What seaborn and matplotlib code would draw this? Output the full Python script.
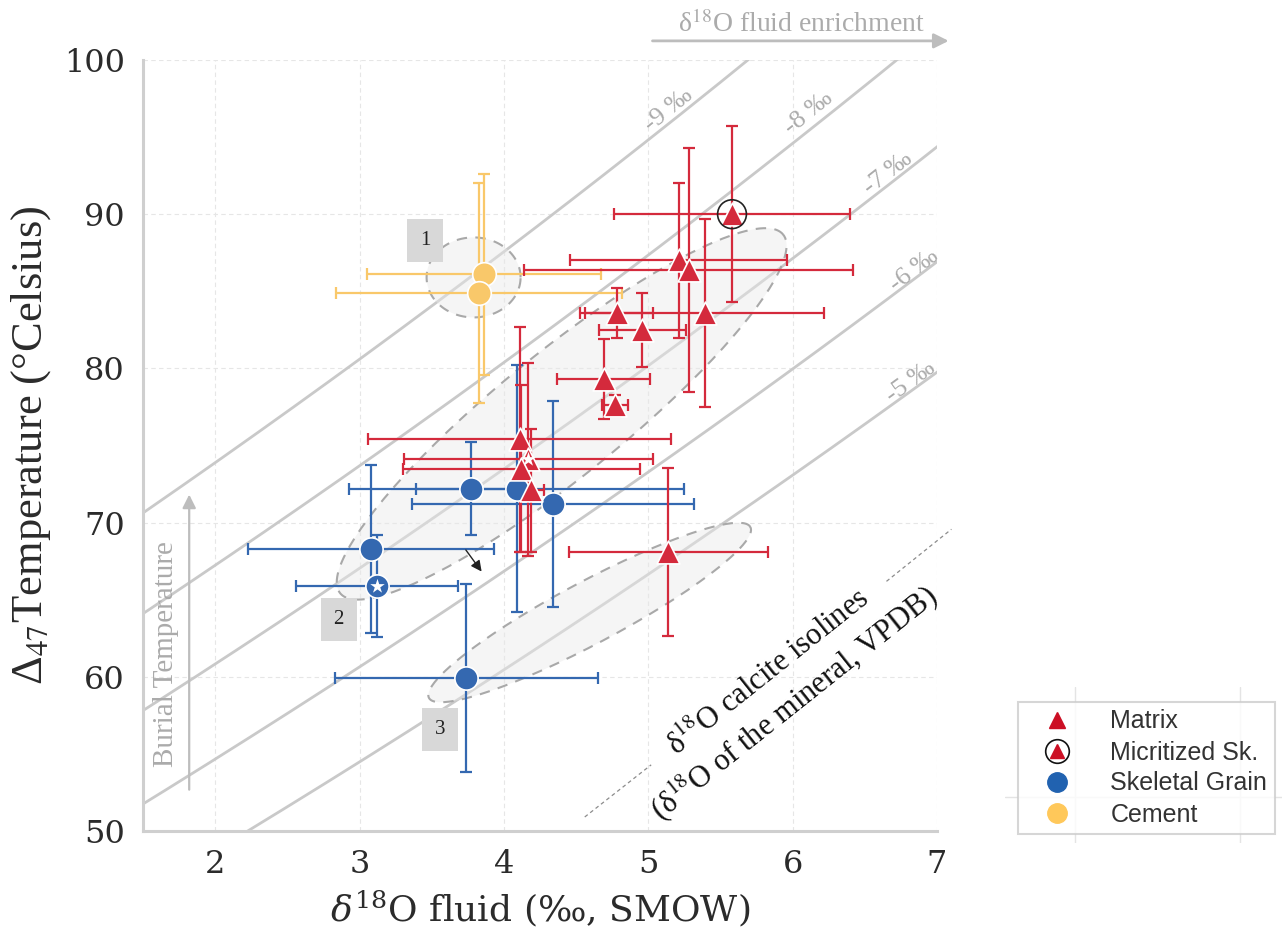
import numpy as np
import pandas as pd
import matplotlib
matplotlib.use("Agg")
import matplotlib.pyplot as plt
import seaborn as sns
from matplotlib.lines import Line2D
from matplotlib.legend_handler import HandlerTuple
from matplotlib.patches import Rectangle

# ---------------- data ----------------
matrix_x = [5.58, 5.21, 5.28, 4.78, 5.39, 4.96, 4.69, 4.77, 4.11, 4.17, 4.12, 4.19, 5.14]
matrix_y = [90.0, 87.0, 86.4, 83.6, 83.6, 82.5, 79.3, 77.6, 75.4, 74.1, 73.5, 72.1, 68.1]
matrix_xerr = [0.82, 0.75, 1.14, 0.25, 0.83, 0.30, 0.32, 0.09, 1.05, 0.86, 0.82, 0.09, 0.69]
matrix_yerr = [5.7, 5.0, 7.9, 1.6, 6.1, 2.4, 2.6, 0.7, 7.3, 6.25, 5.4, 4.0, 5.45]
matrix_micritized = [True] + [False] * 12
matrix_star = [False] * 9 + [True] + [False] * 3

skeletal_x = [3.77, 3.08, 3.12, 4.09, 4.34, 3.74]
skeletal_y = [72.2, 68.3, 65.9, 72.2, 71.2, 59.9]
skeletal_xerr = [0.38, 0.85, 0.56, 1.16, 0.98, 0.91]
skeletal_yerr = [3.0, 5.45, 3.3, 8.0, 6.7, 6.1]
skeletal_star = [False, False, True, False, False, False]

cement_x = [3.865, 3.83]
cement_y = [86.1, 84.9]
cement_xerr = [0.81, 0.99]
cement_yerr = [6.5, 7.15]

# calcite isolines (d18O of the mineral, VPDB); calcite-water fractionation
isoline_values = [-9, -8, -7, -6, -5]
isoline_labels = ["-9 \u2030", "-8 \u2030", "-7 \u2030", "-6 \u2030", "-5 \u2030"]
FRAC_A, FRAC_B = 18.3, 33.15       # 1000 ln(alpha) = A*(1e3/T) - B
SMOW_M, SMOW_C = 1.03086, 30.86    # VPDB -> SMOW

x_ticks = [2, 3, 4, 5, 6, 7]
y_ticks = [50, 60, 70, 80, 90, 100]

legend_labels = ["Matrix", "Micritized Sk.", "Skeletal Grain", "Cement"]

# ---------------- styling ----------------
RED = "#d42a3c"
BLUE = "#3468b0"
YELLOW = "#f9c86a"
LINE_GRAY = "#c9c9c9"
TXT_GRAY = "#ababab"

W, H, DPI = 12.82, 9.35, 100
sns.set_theme(style="whitegrid")
plt.rcParams["font.family"] = ["DejaVu Serif"]
plt.rcParams["mathtext.fontset"] = "dejavuserif"

fig = plt.figure(figsize=(W, H), dpi=DPI)
ax = fig.add_axes([143 / 1282, 1 - 831 / 935, (937 - 143) / 1282, (831 - 60) / 935])
ax.set_xlim(1.5, 7.0)
ax.set_ylim(50, 100)
px_x = (937 - 143) / 5.5
px_y = (831 - 60) / 50.0

ax.grid(True, color="#e6e6e6", linestyle=(0, (4, 3)), linewidth=0.8)
ax.set_axisbelow(True)
for s in ["top", "right"]:
    ax.spines[s].set_visible(False)
for s in ["left", "bottom"]:
    ax.spines[s].set_color("#cfcfcf")
    ax.spines[s].set_linewidth(2.2)
ax.set_xticks(x_ticks)
ax.set_yticks(y_ticks)
ax.tick_params(axis="both", length=0, labelsize=23, colors="#333333", pad=13)
for lab in ax.get_xticklabels() + ax.get_yticklabels():
    lab.set_color("#2b2b2b")

# isolines
T = np.linspace(30, 130, 300)
for v, lab in zip(isoline_values, isoline_labels):
    lnA = FRAC_A * (1e3 / (T + 273.15)) - FRAC_B
    fluid = SMOW_M * v + SMOW_C - lnA
    sns.lineplot(x=fluid, y=T, ax=ax, color=LINE_GRAY, linewidth=2.0, sort=False,
                 estimator=None, zorder=1)

label_pos = [(5.14, 96.75, 39), (6.11, 96.55, 39), (6.66, 92.65, 38), (6.84, 86.35, 37.5),
             (6.82, 79.1, 36)]
for (lx, ly, rot), lab in zip(label_pos, isoline_labels):
    ax.text(lx, ly, lab, rotation=rot, ha="center", va="center", rotation_mode="anchor",
            color=TXT_GRAY, fontsize=19, family="Liberation Serif", zorder=2)


# ellipses (defined in display-pixel sizes, rotated on screen)
def ellipse(cx, cy, a, b, ang):
    t = np.linspace(0, 2 * np.pi, 200)
    th = np.deg2rad(ang)
    dx = a * np.cos(th) * np.cos(t) - b * np.sin(th) * np.sin(t)
    dy = a * np.sin(th) * np.cos(t) + b * np.cos(th) * np.sin(t)
    xs, ys = cx + dx / px_x, cy + dy / px_y
    ax.fill(xs, ys, facecolor="#e9e9e9", alpha=0.45, edgecolor="none", zorder=1.5)
    ax.plot(xs, ys, color="#a9a9a9", linestyle=(0, (5, 4)), linewidth=1.5, zorder=1.6)


ellipse(3.79, 85.9, 47, 40, 0)
ellipse(4.40, 77.05, 285, 62, 39)
ellipse(4.594, 64.17, 182, 31, 28)

# numbered boxes
for bx, by, txt in [(3.455, 88.3, "1"), (2.856, 63.7, "2"), (3.56, 56.6, "3")]:
    ax.add_patch(Rectangle((bx - 18 / px_x, by - 21.5 / px_y), 36 / px_x, 43 / px_y,
                           facecolor="#d8d8d8", edgecolor="none", zorder=2))
    ax.text(bx, by, txt, ha="center", va="center", fontsize=15, family="Liberation Serif",
            color="#222222", zorder=3)

# error bars
ekw = dict(fmt="none", elinewidth=1.6, capsize=4.5, capthick=1.6, zorder=3)
ax.errorbar(cement_x, cement_y, xerr=cement_xerr, yerr=cement_yerr, ecolor=YELLOW, **ekw)
ax.errorbar(skeletal_x, skeletal_y, xerr=skeletal_xerr, yerr=skeletal_yerr, ecolor=BLUE, **ekw)
ax.errorbar(matrix_x, matrix_y, xerr=matrix_xerr, yerr=matrix_yerr, ecolor=RED, **ekw)

# markers through seaborn
df = pd.DataFrame({
    "x": cement_x + skeletal_x + matrix_x,
    "y": cement_y + skeletal_y + matrix_y,
    "grp": ["Cement"] * len(cement_x) + ["Skeletal Grain"] * len(skeletal_x) + ["Matrix"] * len(matrix_x),
})
sns.scatterplot(data=df[df.grp == "Cement"], x="x", y="y", color=YELLOW, s=290,
                edgecolor="white", linewidth=1.2, ax=ax, zorder=4, legend=False)
sns.scatterplot(data=df[df.grp == "Skeletal Grain"], x="x", y="y", color=BLUE, s=280,
                edgecolor="white", linewidth=1.2, ax=ax, zorder=4, legend=False)
sns.scatterplot(data=df[df.grp == "Matrix"], x="x", y="y", color=RED, marker="^", s=270,
                edgecolor="white", linewidth=1.2, ax=ax, zorder=5, legend=False)

mic = [(x, y) for x, y, m in zip(matrix_x, matrix_y, matrix_micritized) if m]
ax.scatter([p[0] for p in mic], [p[1] for p in mic], s=430, facecolor="none",
           edgecolor="#222222", linewidth=1.2, zorder=6)
stars = [(x, y) for x, y, st in zip(matrix_x + skeletal_x, matrix_y + skeletal_y,
                                     matrix_star + skeletal_star) if st]
ax.scatter([p[0] for p in stars], [p[1] for p in stars], marker="*", s=120,
           color="white", linewidth=0, zorder=7)

# small black arrow
ax.annotate("", xy=(3.857, 66.68), xytext=(3.725, 68.37),
            arrowprops=dict(arrowstyle="-|>", color="#222222", lw=1.0, mutation_scale=16),
            zorder=6)

# burial temperature arrow
ax.annotate("", xy=(1.82, 72.0), xytext=(1.82, 52.5),
            arrowprops=dict(arrowstyle="-|>", color="#bdbdbd", lw=1.6, mutation_scale=20))
ax.text(1.66, 61.5, "Burial Temperature", rotation=90, ha="center", va="center",
        fontsize=21, color=TXT_GRAY, family="Liberation Serif")

# fluid enrichment arrow (above the axes)
ax.annotate("", xy=(7.10, 101.24), xytext=(5.01, 101.24), annotation_clip=False,
            arrowprops=dict(arrowstyle="-|>", color="#bdbdbd", lw=2.0, mutation_scale=22))
ax.text(6.06, 102.3, r"δ$^{18}$O fluid enrichment", ha="center", va="center",
        fontsize=20, color=TXT_GRAY, family="Liberation Serif", math_fontfamily="stix",
        clip_on=False)

# calcite isolines note with dashed guide
ax.plot([4.56, 5.02], [50.91, 54.29], color="#8c8c8c", linestyle=(0, (3, 2.5)), lw=0.9,
        clip_on=False)
ax.plot([6.65, 7.10], [66.19, 69.57], color="#8c8c8c", linestyle=(0, (3, 2.5)), lw=0.9,
        clip_on=False)
ax.text(5.93, 59.2, "δ$^{18}$O calcite isolines\n(δ$^{18}$O of the mineral, VPDB)",
        rotation=38.5, ha="center", va="center", rotation_mode="anchor", multialignment="center",
        fontsize=22, color="#111111", family="Liberation Serif", math_fontfamily="stix",
        linespacing=1.2)

# axis labels
ax.set_xlabel(r"$\delta^{18}$O fluid (‰, SMOW)", fontsize=26, color="#2b2b2b", labelpad=6)
ax.set_ylabel("Δ$_{47}$Temperature (°Celsius)", fontsize=32, color="#2b2b2b",
              family="Liberation Serif", math_fontfamily="stix", labelpad=8)

# legend panel (empty helper axes with faint grid)
ax2 = fig.add_axes([1005 / 1282, 1 - 843 / 935, 0.3, (843 - 687) / 935])
ax2.set_xlim(0, 385)
ax2.set_ylim(0, 156)
ax2.set_xticks([70, 235])
ax2.set_yticks([46])
ax2.tick_params(length=0, labelbottom=False, labelleft=False)
ax2.grid(True, color="#e4e4e4", linewidth=1.0)
for s in ax2.spines.values():
    s.set_visible(False)

h_matrix = Line2D([], [], marker="^", linestyle="none", color="#cc0f24", markersize=12)
h_circ = Line2D([], [], marker="o", linestyle="none", markerfacecolor="none",
                markeredgecolor="#111111", markersize=17, markeredgewidth=1.2)
h_tri = Line2D([], [], marker="^", linestyle="none", color="#cc0f24", markersize=10)
h_skel = Line2D([], [], marker="o", linestyle="none", color="#2162b0", markersize=14)
h_cem = Line2D([], [], marker="o", linestyle="none", color="#ffc85a", markersize=14)
leg = ax2.legend([h_matrix, (h_circ, h_tri), h_skel, h_cem], legend_labels,
                 handler_map={tuple: HandlerTuple(ndivide=1, pad=0)},
                 loc="upper left", bbox_to_anchor=(1018 / 1282, 1 - 702 / 935),
                 bbox_transform=fig.transFigure, frameon=True, fancybox=False,
                 prop={"family": "Liberation Sans", "size": 18}, labelspacing=0.28,
                 handlelength=2.5, handletextpad=0.9, borderpad=0.3, borderaxespad=0)
leg.get_frame().set_edgecolor("#cccccc")
leg.get_frame().set_linewidth(1.5)
for t in leg.get_texts():
    t.set_color("#333333")

fig.savefig("out.png", dpi=DPI)
